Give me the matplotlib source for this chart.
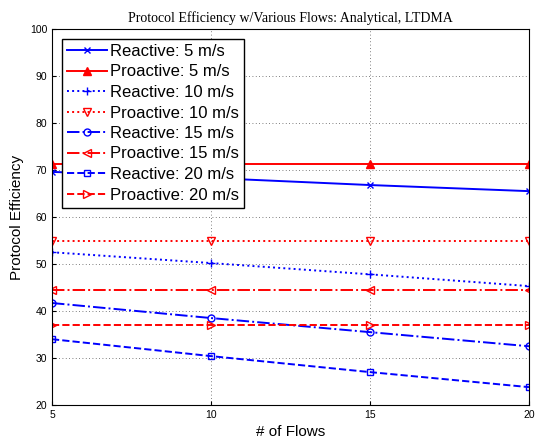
import matplotlib
matplotlib.use("Agg")
import matplotlib.pyplot as plt

# data
flows = [5, 10, 15, 20]
reactive_5 = [69.6, 68.3, 66.8, 65.5]
proactive_5 = [71.3, 71.3, 71.3, 71.3]
reactive_10 = [52.5, 50.2, 47.8, 45.3]
proactive_10 = [54.9, 54.9, 54.9, 54.9]
reactive_15 = [41.7, 38.5, 35.5, 32.5]
proactive_15 = [44.5, 44.5, 44.5, 44.5]
reactive_20 = [34.0, 30.4, 27.0, 23.8]
proactive_20 = [37.0, 37.0, 37.0, 37.0]

plt.rcParams['font.family'] = ['Liberation Sans', 'DejaVu Sans']

fig = plt.figure(figsize=(5.37, 4.43), dpi=100)
ax = fig.add_axes([52 / 537, 1 - 405 / 443, (529 - 52) / 537, (405 - 29) / 443])

lw = 1.4
ax.plot(flows, reactive_5, color='blue', linestyle='-', marker='x', markersize=4, lw=lw, label='Reactive: 5 m/s')
ax.plot(flows, proactive_5, color='red', linestyle='-', marker='^', markersize=6, lw=lw, label='Proactive: 5 m/s')
ax.plot(flows, reactive_10, color='blue', linestyle=':', marker='+', markersize=6, lw=lw, label='Reactive: 10 m/s')
ax.plot(flows, proactive_10, color='red', linestyle=':', marker='v', markersize=6, mfc='none', lw=lw, label='Proactive: 10 m/s')
ax.plot(flows, reactive_15, color='blue', linestyle='-.', marker='o', markersize=5, mfc='none', lw=lw, label='Reactive: 15 m/s')
ax.plot(flows, proactive_15, color='red', linestyle='-.', marker='<', markersize=6, mfc='none', lw=lw, label='Proactive: 15 m/s')
ax.plot(flows, reactive_20, color='blue', linestyle='--', marker='s', markersize=4.5, mfc='none', lw=lw, label='Reactive: 20 m/s')
ax.plot(flows, proactive_20, color='red', linestyle='--', marker='>', markersize=6, mfc='none', lw=lw, label='Proactive: 20 m/s')

ax.set_xlim(5, 20)
ax.set_ylim(20, 100)
ax.set_xticks(flows)
ax.set_yticks(range(20, 101, 10))
ax.tick_params(labelsize=7.5, direction='in', length=3)
ax.grid(True, linestyle=(0, (1, 3)), color='#555555', linewidth=0.6)

ax.set_xlabel('# of Flows', fontsize=11)
ax.set_ylabel('Protocol Efficiency', fontsize=11)
ax.set_title('Protocol Efficiency w/Various Flows: Analytical, LTDMA',
             fontsize=10, family='Liberation Serif', pad=5)

leg = ax.legend(loc='upper left', fontsize=12, fancybox=False, framealpha=1,
                edgecolor='black', handlelength=2.4, borderpad=0.3,
                labelspacing=0.33, handletextpad=0.2, borderaxespad=0.6)
leg.get_frame().set_linewidth(1.0)

fig.savefig('out.png', dpi=100)
